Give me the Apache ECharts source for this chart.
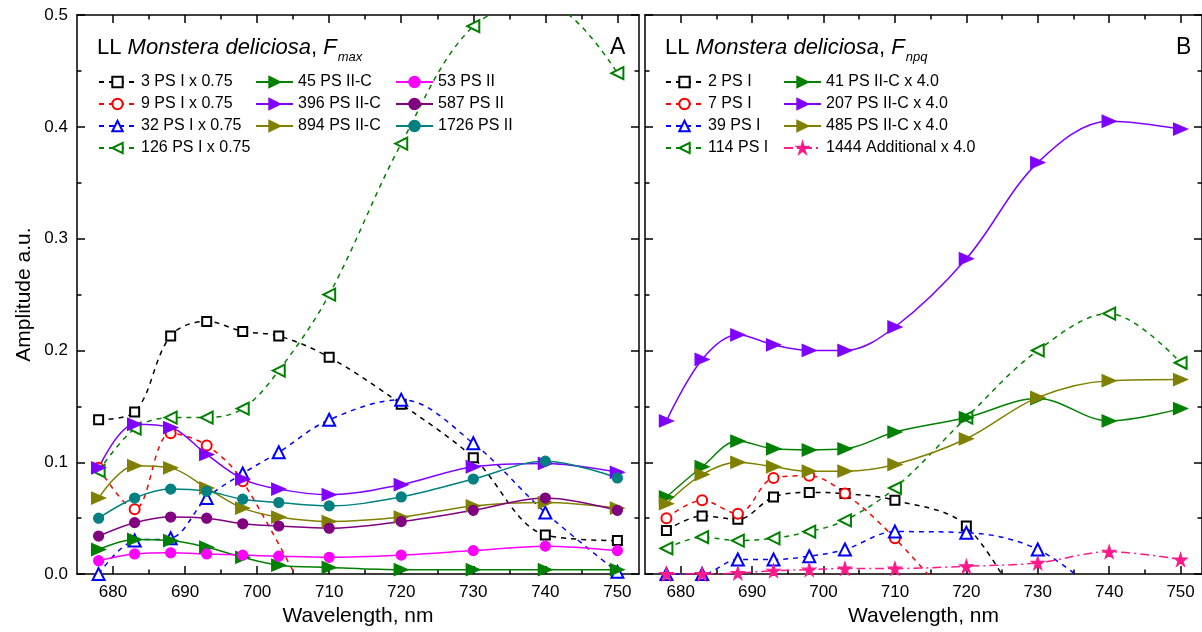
<!DOCTYPE html>
<html><head><meta charset="utf-8">
<script src="https://cdn.jsdelivr.net/npm/echarts@6/dist/echarts.min.js"></script>
<style>html,body{margin:0;padding:0;background:#fff}#c{width:1202px;height:632px}</style>
</head><body><div id="c"></div>
<script>
// ---------- data ----------
const wavelengths = [678, 683, 688, 693, 698, 703, 710, 720, 730, 740, 750];

// Panel A: Fmax
const a_ps1_3   = [0.138, 0.145, 0.213, 0.226, 0.217, 0.213, 0.194, 0.152, 0.104, 0.035, 0.030];
const a_ps1_9   = [0.095, 0.058, 0.126, 0.115, 0.083, null, -0.060, null, null, null, null];
const a_ps1_32  = [0.000, 0.030, 0.032, 0.068, 0.090, 0.109, 0.138, 0.156, 0.117, 0.055, 0.002];
const a_ps1_126 = [0.092, 0.130, 0.140, 0.140, 0.148, 0.182, 0.250, 0.385, 0.490, 0.510, 0.448];
const a_ps2c_45  = [0.022, 0.031, 0.030, 0.024, 0.015, 0.008, 0.006, 0.004, 0.004, 0.004, 0.004];
const a_ps2c_396 = [0.095, 0.134, 0.131, 0.107, 0.085, 0.076, 0.071, 0.080, 0.096, 0.099, 0.091];
const a_ps2c_894 = [0.068, 0.097, 0.095, 0.077, 0.059, 0.051, 0.047, 0.051, 0.061, 0.064, 0.059];
const a_ps2_53   = [0.012, 0.018, 0.019, 0.018, 0.017, 0.016, 0.015, 0.017, 0.021, 0.025, 0.021];
const a_ps2_587  = [0.034, 0.046, 0.051, 0.050, 0.045, 0.043, 0.041, 0.047, 0.057, 0.068, 0.057];
const a_ps2_1726 = [0.050, 0.068, 0.076, 0.074, 0.067, 0.064, 0.061, 0.069, 0.085, 0.101, 0.086];

// Panel B: Fnpq
const b_ps1_2   = [0.039, 0.052, 0.049, 0.069, 0.073, 0.072, 0.066, 0.043, -0.060, null, null];
const b_ps1_7   = [0.050, 0.066, 0.054, 0.086, 0.088, 0.072, 0.032, -0.040, null, null, null];
const b_ps1_39  = [0.000, 0.000, 0.013, 0.013, 0.016, 0.022, 0.038, 0.037, 0.022, -0.025, null];
const b_ps1_114 = [0.023, 0.033, 0.030, 0.032, 0.038, 0.048, 0.077, 0.140, 0.200, 0.233, 0.189];
const b_ps2c_41  = [0.069, 0.096, 0.119, 0.112, 0.111, 0.112, 0.127, 0.140, 0.157, 0.137, 0.148];
const b_ps2c_207 = [0.137, 0.192, 0.214, 0.205, 0.200, 0.200, 0.221, 0.282, 0.368, 0.405, 0.398];
const b_ps2c_485 = [0.063, 0.089, 0.100, 0.096, 0.092, 0.092, 0.098, 0.121, 0.158, 0.173, 0.174];
const b_add_1444 = [0.000, 0.000, 0.001, 0.003, 0.004, 0.005, 0.005, 0.007, 0.010, 0.020, 0.013];

// ticks
const xMajorTicks = [680, 690, 700, 710, 720, 730, 740, 750];
const xMinorTicks = [685, 695, 705, 715, 725, 735, 745];
const yMajorTicks = [0, 0.1, 0.2, 0.3, 0.4, 0.5];
const yMinorTicks = [0.05, 0.15, 0.25, 0.35, 0.45];

// ---------- chart ----------
const FONT = "'Liberation Sans', Arial, sans-serif";
const STAR = 'path://M50,0 L61,35 L98,35 L68,57 L79,91 L50,70 L21,91 L32,57 L2,35 L39,35 Z';
const chart = echarts.init(document.getElementById('c'), null, {renderer: 'canvas'});

function pts(vals) {
  const out = [];
  vals.forEach((v, i) => { if (v !== null) out.push([wavelengths[i], v]); });
  return out;
}
function mk(name, grid, vals, color, symbol, size, rotate, dash) {
  return {
    name: name, type: 'line', xAxisIndex: grid * 4, yAxisIndex: grid * 4,
    data: pts(vals), smooth: 0.35, clip: true,
    symbol: symbol, symbolSize: size, symbolRotate: rotate, showSymbol: true,
    lineStyle: {color: color, width: 1.5, type: dash || 'solid'},
    itemStyle: {color: color, borderColor: color, borderWidth: 1.2},
    emphasis: {disabled: true}, animation: false
  };
}
const DASH = [5, 5];
const DASHDOT = [9, 4, 2, 4];
const TRI_R = [12, 14];

const series = [
  mk('3 PS I x 0.75', 0, a_ps1_3, '#000000', 'emptyRect', 9, 0, DASH),
  mk('9 PS I x 0.75', 0, a_ps1_9, '#ff0000', 'emptyCircle', 10, 0, DASH),
  mk('32 PS I x 0.75', 0, a_ps1_32, '#0000ff', 'emptyTriangle', 12, 0, DASH),
  mk('126 PS I x 0.75', 0, a_ps1_126, '#008000', 'emptyTriangle', 12, 90, DASH),
  mk('45 PS II-C', 0, a_ps2c_45, '#008000', 'triangle', TRI_R, -90),
  mk('396 PS II-C', 0, a_ps2c_396, '#8000ff', 'triangle', TRI_R, -90),
  mk('894 PS II-C', 0, a_ps2c_894, '#808000', 'triangle', TRI_R, -90),
  mk('53 PS II', 0, a_ps2_53, '#ff00ff', 'circle', 10, 0),
  mk('587 PS II', 0, a_ps2_587, '#800080', 'circle', 10, 0),
  mk('1726 PS II', 0, a_ps2_1726, '#008080', 'circle', 10, 0),

  mk('2 PS I', 1, b_ps1_2, '#000000', 'emptyRect', 9, 0, DASH),
  mk('7 PS I', 1, b_ps1_7, '#ff0000', 'emptyCircle', 10, 0, DASH),
  mk('39 PS I', 1, b_ps1_39, '#0000ff', 'emptyTriangle', 12, 0, DASH),
  mk('114 PS I', 1, b_ps1_114, '#008000', 'emptyTriangle', 12, 90, DASH),
  mk('41 PS II-C x 4.0', 1, b_ps2c_41, '#008000', 'triangle', TRI_R, -90),
  mk('207 PS II-C x 4.0', 1, b_ps2c_207, '#8000ff', 'triangle', TRI_R, -90),
  mk('485 PS II-C x 4.0', 1, b_ps2c_485, '#808000', 'triangle', TRI_R, -90),
  mk('1444 Additional x 4.0', 1, b_add_1444, '#ff1a8c', STAR, 13, 0, DASHDOT)
];

const axisLineStyle = {show: true, onZero: false, lineStyle: {color: '#000', width: 1.5}};
function xAxes(grid) {
  const base = {type: 'value', gridIndex: grid, min: 675, max: 753, splitLine: {show: false}};
  return [
    Object.assign({}, base, {
      position: 'bottom', axisLine: axisLineStyle,
      axisTick: {show: true, inside: true, length: 8, customValues: xMajorTicks, lineStyle: {color: '#000', width: 1.5}},
      axisLabel: {show: true, customValues: xMajorTicks, margin: 10, fontSize: 17, color: '#000', fontFamily: FONT},
      name: 'Wavelength, nm', nameLocation: 'middle', nameGap: 27,
      nameTextStyle: {fontSize: 21, color: '#000', fontFamily: FONT}
    }),
    Object.assign({}, base, {
      position: 'top', axisLine: axisLineStyle,
      axisTick: {show: true, inside: true, length: 8, customValues: xMajorTicks, lineStyle: {color: '#000', width: 1.5}},
      axisLabel: {show: false}
    }),
    Object.assign({}, base, {
      position: 'bottom', axisLine: {show: false, onZero: false},
      axisTick: {show: true, inside: true, length: 4.5, customValues: xMinorTicks, lineStyle: {color: '#000', width: 1.5}},
      axisLabel: {show: false}
    }),
    Object.assign({}, base, {
      position: 'top', axisLine: {show: false, onZero: false},
      axisTick: {show: true, inside: true, length: 4.5, customValues: xMinorTicks, lineStyle: {color: '#000', width: 1.5}},
      axisLabel: {show: false}
    })
  ];
}
function yAxes(grid) {
  const base = {type: 'value', gridIndex: grid, min: 0, max: 0.5, splitLine: {show: false}};
  const left = Object.assign({}, base, {
    position: 'left', axisLine: axisLineStyle,
    axisTick: {show: true, inside: true, length: 8, customValues: yMajorTicks, lineStyle: {color: '#000', width: 1.5}},
    axisLabel: grid === 0
      ? {show: true, customValues: yMajorTicks, margin: 9, fontSize: 17, color: '#000', fontFamily: FONT,
         formatter: v => Number(v).toFixed(1)}
      : {show: false}
  });
  if (grid === 0) {
    left.name = 'Amplitude a.u.';
    left.nameLocation = 'middle';
    left.nameGap = 42;
    left.nameTextStyle = {fontSize: 21, color: '#000', fontFamily: FONT};
  }
  return [
    left,
    Object.assign({}, base, {
      position: 'right', axisLine: axisLineStyle,
      axisTick: {show: true, inside: true, length: 8, customValues: yMajorTicks, lineStyle: {color: '#000', width: 1.5}},
      axisLabel: {show: false}
    }),
    Object.assign({}, base, {
      position: 'left', axisLine: {show: false, onZero: false},
      axisTick: {show: true, inside: true, length: 4.5, customValues: yMinorTicks, lineStyle: {color: '#000', width: 1.5}},
      axisLabel: {show: false}
    }),
    Object.assign({}, base, {
      position: 'right', axisLine: {show: false, onZero: false},
      axisTick: {show: true, inside: true, length: 4.5, customValues: yMinorTicks, lineStyle: {color: '#000', width: 1.5}},
      axisLabel: {show: false}
    })
  ];
}

function legend(names, left) {
  return {
    data: names, left: left, top: 74, orient: 'vertical', padding: 0,
    itemWidth: 37, itemHeight: 13, itemGap: 6, selectedMode: false,
    textStyle: {fontSize: 16, color: '#000', fontFamily: FONT}
  };
}

// panel titles: measure the main text to place the italic subscript after "F"
const mctx = document.createElement('canvas').getContext('2d');
function tw(txt, italic) {
  mctx.font = (italic ? 'italic ' : '') + "22px 'Liberation Sans'";
  return mctx.measureText(txt).width;
}
const mainW = tw('LL ', false) + tw('Monstera deliciosa', true) + tw(', ', false) + tw('F', true);
const TITLE_TOP = 37;
const titleRich = {
  n: {fontSize: 22, fontFamily: FONT, color: '#000', fontWeight: 'normal'},
  i: {fontSize: 22, fontFamily: FONT, color: '#000', fontStyle: 'italic', fontWeight: 'normal'}
};
function titleText(left) {
  return {type: 'text', left: left, top: TITLE_TOP,
          style: {text: '{n|LL }{i|Monstera deliciosa}{n|, }{i|F}', rich: titleRich}};
}
function subText(left, txt) {
  return {type: 'text', left: left + mainW + 1, top: TITLE_TOP + 14,
          style: {text: txt, fontSize: 13, fontStyle: 'italic', fontFamily: FONT, fill: '#000'}};
}

const option = {
  backgroundColor: '#fff',
  animation: false,
  grid: [
    {left: 77, top: 15, width: 562, height: 560},
    {left: 645, top: 15, width: 562, height: 560}
  ],
  xAxis: xAxes(0).concat(xAxes(1)),
  yAxis: yAxes(0).concat(yAxes(1)),
  graphic: [
    titleText(97), subText(97, 'max'),
    titleText(665), subText(665, 'npq'),
    {type: 'text', left: 610, top: 36, style: {text: 'A', fontSize: 23, fontFamily: FONT, fill: '#000'}},
    {type: 'text', left: 1176, top: 36, style: {text: 'B', fontSize: 23, fontFamily: FONT, fill: '#000'}}
  ],
  legend: [
    legend(['3 PS I x 0.75', '9 PS I x 0.75', '32 PS I x 0.75', '126 PS I x 0.75'], 98),
    legend(['45 PS II-C', '396 PS II-C', '894 PS II-C'], 255),
    legend(['53 PS II', '587 PS II', '1726 PS II'], 395),
    legend(['2 PS I', '7 PS I', '39 PS I', '114 PS I'], 665),
    legend(['41 PS II-C x 4.0', '207 PS II-C x 4.0', '485 PS II-C x 4.0', '1444 Additional x 4.0'], 783)
  ],
  series: series
};
chart.setOption(option);
</script></body></html>
